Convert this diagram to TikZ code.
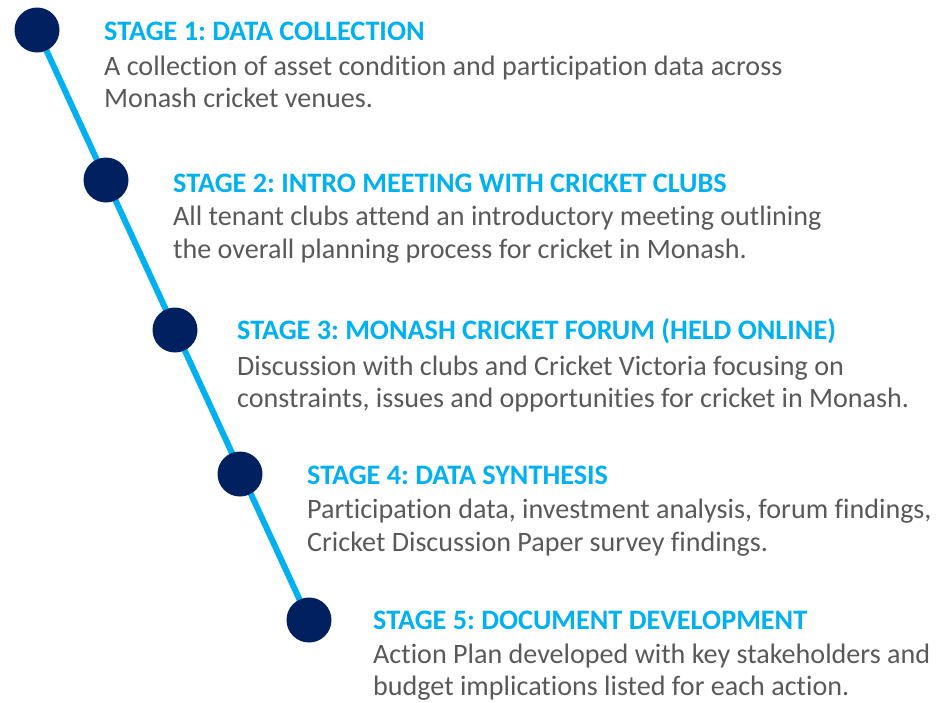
\documentclass[tikz,border=0pt]{standalone}
\usepackage{fontspec}
\setmainfont{Carlito}[Ligatures=NoCommon]
\frenchspacing
\definecolor{navy}{HTML}{002060}
\definecolor{skyb}{HTML}{00B0F0}
\definecolor{txtgray}{HTML}{595959}
\begin{document}
\begin{tikzpicture}[x=1pt,y=-1pt,
  dot/.style={circle,fill=navy,minimum size=45pt,inner sep=0pt},
  ttl/.style={anchor=base west,inner sep=0pt,text=skyb,font=\fontsize{28.2}{33}\selectfont\bfseries},
  body/.style={anchor=base west,inner sep=0pt,text=txtgray,font=\fontsize{28.1}{33}\selectfont}]
\useasboundingbox (0,0) rectangle (950,702);
\coordinate (c1) at (37,30);
\coordinate (c2) at (106,180);
\coordinate (c3) at (175,330);
\coordinate (c4) at (240,474);
\coordinate (c5) at (309,620);
\draw[skyb,line width=6pt] (c1) -- (c5);
\node[dot] (d1) at (c1) {};
\node[dot] (d2) at (c2) {};
\node[dot] (d3) at (c3) {};
\node[dot] (d4) at (c4) {};
\node[dot] (d5) at (c5) {};
\node[ttl] (t1) at (104,40) {STAGE 1: DATA COLLECTION};
\node[body] (b1a) at (104,75) {A collection of asset condition and participation data across};
\node[body] (b1b) at (104,107) {Monash cricket venues.};
\node[ttl] (t2) at (173,192) {STAGE 2: INTRO MEETING WITH CRICKET CLUBS};
\node[body] (b2a) at (173,225) {All tenant clubs attend an introductory meeting outlining};
\node[body] (b2b) at (173,258) {the overall planning process for cricket in Monash.};
\node[ttl] (t3) at (237,339) {STAGE 3: MONASH CRICKET FORUM (HELD ONLINE)};
\node[body] (b3a) at (237,375) {Discussion with clubs and Cricket Victoria focusing on};
\node[body] (b3b) at (237,407) {constraints, issues and opportunities for cricket in Monash.};
\node[ttl] (t4) at (307,484) {STAGE 4: DATA SYNTHESIS};
\node[body] (b4a) at (307,518) {Participation data, investment analysis, forum findings,};
\node[body] (b4b) at (307,551) {Cricket Discussion Paper survey findings.};
\node[ttl] (t5) at (373,629) {STAGE 5: DOCUMENT DEVELOPMENT};
\node[body] (b5a) at (373,663) {Action Plan developed with key stakeholders and};
\node[body] (b5b) at (373,695) {budget implications listed for each action.};
\end{tikzpicture}
\end{document}
